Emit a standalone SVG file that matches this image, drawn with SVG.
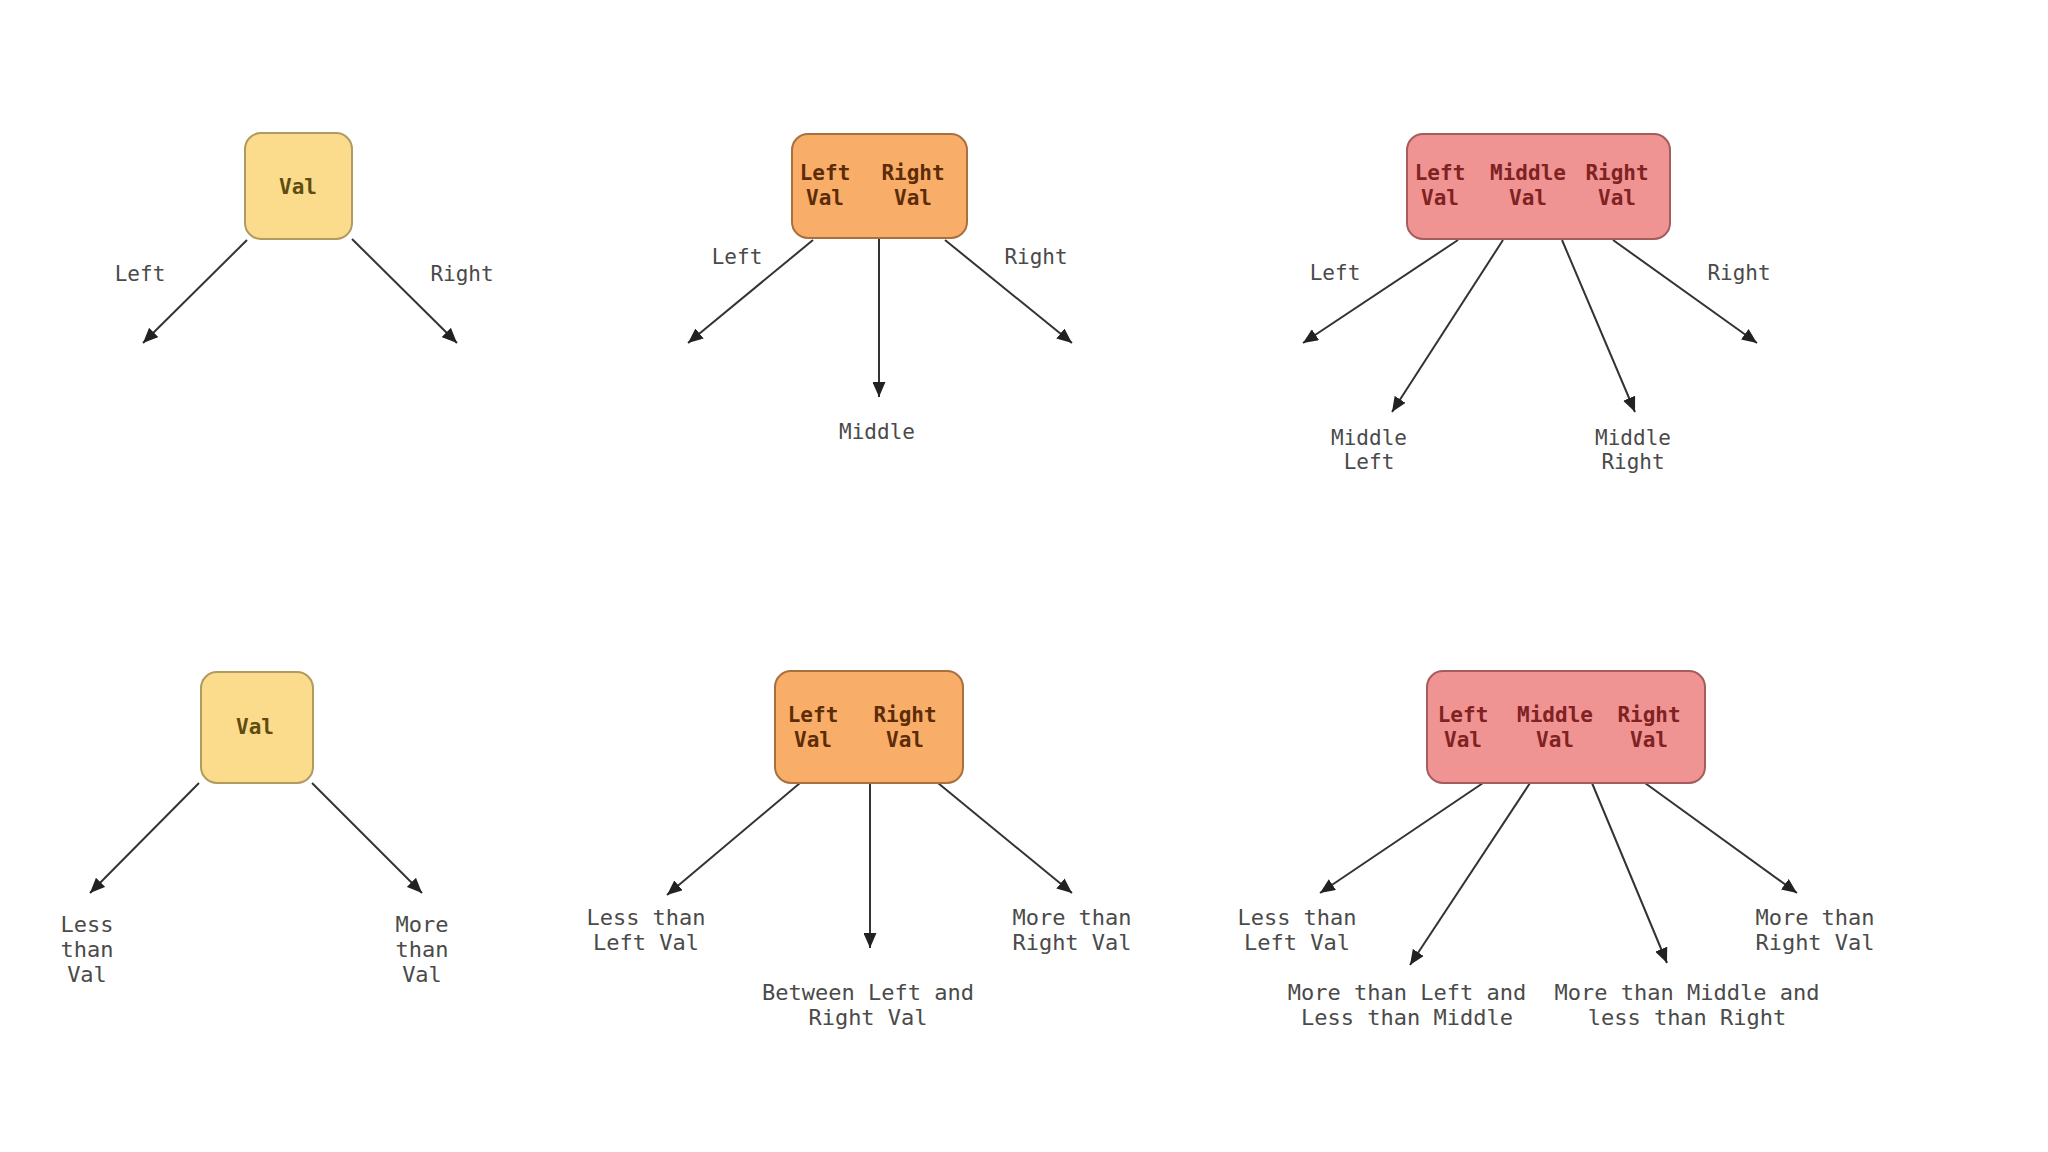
<svg xmlns="http://www.w3.org/2000/svg" width="2048" height="1152" viewBox="0 0 2048 1152">
<defs>
<style>
.bg{fill:#ffffff}
.y{fill:#FADC8C;stroke:#b09a5e;stroke-width:2}
.o{fill:#F8AD68;stroke:#a8703e;stroke-width:2}
.r{fill:#EF9393;stroke:#a45c5c;stroke-width:2}
text{font-family:"DejaVu Sans Mono","Liberation Mono",monospace;font-size:21px;text-anchor:middle}
.ty{fill:#5e4c12;font-weight:bold}
.to{fill:#5c2c08;font-weight:bold}
.tr{fill:#7e2222;font-weight:bold}
.lb{fill:#4a4a4a}
.lb2{fill:#4a4a4a;font-size:22px}
.c line{stroke:#333333;stroke-width:2;marker-end:url(#ah)}
</style>
<marker id="ah" markerUnits="userSpaceOnUse" markerWidth="16" markerHeight="13" refX="15" refY="6.5" orient="auto">
<path d="M0,0 L15,6.5 L0,13 z" fill="#222222"/>
</marker>
</defs>
<rect class="bg" x="0" y="0" width="2048" height="1152"/>

<g id="connectors" class="c">
<line x1="247" y1="240" x2="143" y2="343"/>
<line x1="352" y1="239" x2="457" y2="343"/>
<line x1="813" y1="240" x2="688" y2="343"/>
<line x1="879" y1="238" x2="879" y2="397"/>
<line x1="945" y1="240" x2="1072" y2="343"/>
<line x1="1458" y1="240" x2="1303" y2="343"/>
<line x1="1503" y1="240" x2="1392" y2="412"/>
<line x1="1562" y1="240" x2="1635" y2="412"/>
<line x1="1613" y1="240" x2="1757" y2="343"/>
<line x1="199" y1="783" x2="90" y2="893"/>
<line x1="312" y1="783" x2="422" y2="893"/>
<line x1="800" y1="783" x2="667" y2="895"/>
<line x1="870" y1="783" x2="870" y2="948"/>
<line x1="938" y1="783" x2="1072" y2="893"/>
<line x1="1483" y1="783" x2="1320" y2="893"/>
<line x1="1530" y1="783" x2="1410" y2="965"/>
<line x1="1592" y1="783" x2="1667" y2="963"/>
<line x1="1645" y1="783" x2="1797" y2="893"/>
</g>

<g id="labels">
<text class="lb" x="140" y="281">Left</text>
<text class="lb" x="462" y="281">Right</text>
<text class="lb" x="737" y="264">Left</text>
<text class="lb" x="1036" y="264">Right</text>
<text class="lb" x="877" y="439">Middle</text>
<text class="lb" x="1335" y="280">Left</text>
<text class="lb" x="1739" y="280">Right</text>
<text class="lb" x="1369" y="445">Middle</text>
<text class="lb" x="1369" y="469">Left</text>
<text class="lb" x="1633" y="445">Middle</text>
<text class="lb" x="1633" y="469">Right</text>
<text class="lb2" x="87" y="932">Less</text>
<text class="lb2" x="87" y="957">than</text>
<text class="lb2" x="87" y="982">Val</text>
<text class="lb2" x="422" y="932">More</text>
<text class="lb2" x="422" y="957">than</text>
<text class="lb2" x="422" y="982">Val</text>
<text class="lb2" x="646" y="925">Less than</text>
<text class="lb2" x="646" y="950">Left Val</text>
<text class="lb2" x="868" y="1000">Between Left and</text>
<text class="lb2" x="868" y="1025">Right Val</text>
<text class="lb2" x="1072" y="925">More than</text>
<text class="lb2" x="1072" y="950">Right Val</text>
<text class="lb2" x="1297" y="925">Less than</text>
<text class="lb2" x="1297" y="950">Left Val</text>
<text class="lb2" x="1407" y="1000">More than Left and</text>
<text class="lb2" x="1407" y="1025">Less than Middle</text>
<text class="lb2" x="1687" y="1000">More than Middle and</text>
<text class="lb2" x="1687" y="1025">less than Right</text>
<text class="lb2" x="1815" y="925">More than</text>
<text class="lb2" x="1815" y="950">Right Val</text>
</g>

<g id="node-2-top">
<rect class="y" x="245" y="133" width="107" height="106" rx="16"/>
<text class="ty" x="298" y="194">Val</text>
</g>
<g id="node-3-top">
<rect class="o" x="792" y="134" width="175" height="104" rx="16"/>
<text class="to" x="825" y="180">Left</text>
<text class="to" x="825" y="205">Val</text>
<text class="to" x="913" y="180">Right</text>
<text class="to" x="913" y="205">Val</text>
</g>
<g id="node-4-top">
<rect class="r" x="1407" y="134" width="263" height="105" rx="16"/>
<text class="tr" x="1440" y="180">Left</text>
<text class="tr" x="1440" y="205">Val</text>
<text class="tr" x="1528" y="180">Middle</text>
<text class="tr" x="1528" y="205">Val</text>
<text class="tr" x="1617" y="180">Right</text>
<text class="tr" x="1617" y="205">Val</text>
</g>
<g id="node-2-bottom">
<rect class="y" x="201" y="672" width="112" height="111" rx="16"/>
<text class="ty" x="255" y="734">Val</text>
</g>
<g id="node-3-bottom">
<rect class="o" x="775" y="671" width="188" height="112" rx="16"/>
<text class="to" x="813" y="722">Left</text>
<text class="to" x="813" y="747">Val</text>
<text class="to" x="905" y="722">Right</text>
<text class="to" x="905" y="747">Val</text>
</g>
<g id="node-4-bottom">
<rect class="r" x="1427" y="671" width="278" height="112" rx="16"/>
<text class="tr" x="1463" y="722">Left</text>
<text class="tr" x="1463" y="747">Val</text>
<text class="tr" x="1555" y="722">Middle</text>
<text class="tr" x="1555" y="747">Val</text>
<text class="tr" x="1649" y="722">Right</text>
<text class="tr" x="1649" y="747">Val</text>
</g>
</svg>
